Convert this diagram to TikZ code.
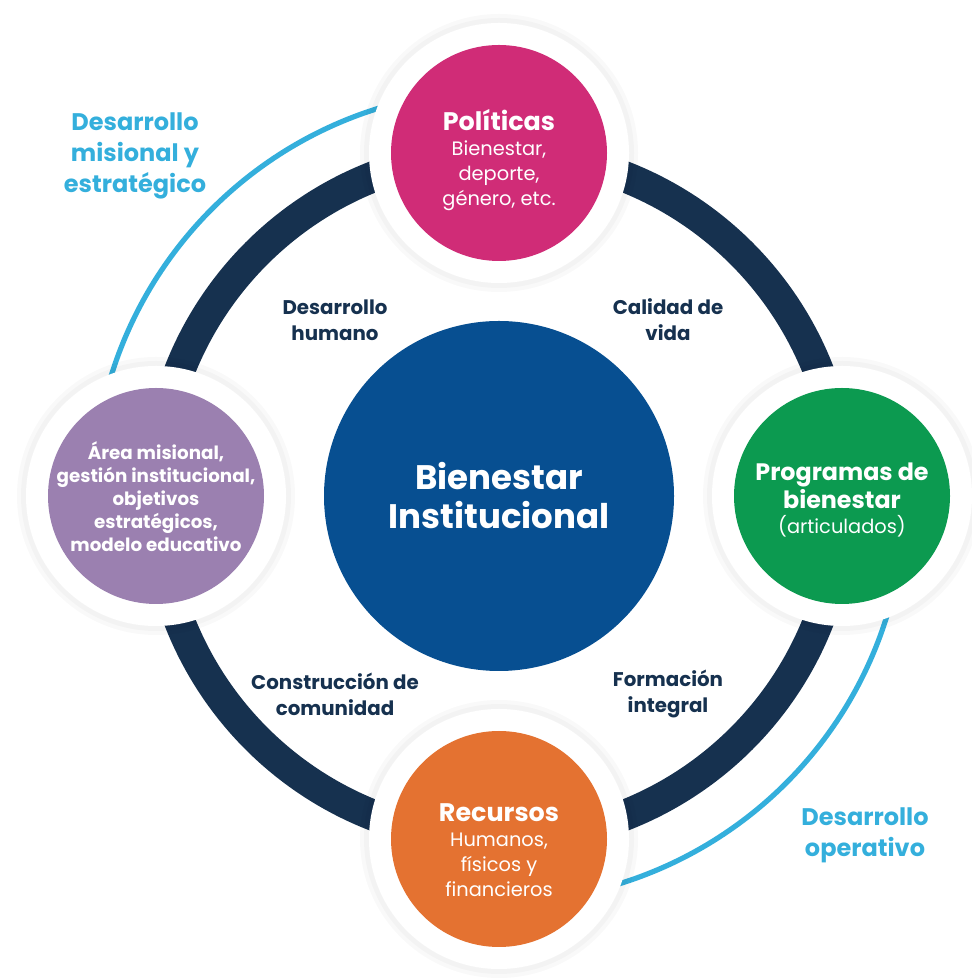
\documentclass[tikz,border=0pt]{standalone}
\RequirePackage{fontspec}
\RequirePackage{tikz}
\RequirePackage{tkz-euclide}
\setmainfont{Poppins}
\definecolor{navy}{RGB}{22,49,79}
\definecolor{sky}{RGB}{52,175,220}
\definecolor{hub}{RGB}{7,79,145}
\definecolor{rosa}{RGB}{208,44,119}
\definecolor{lila}{RGB}{155,128,176}
\definecolor{verde}{RGB}{12,154,80}
\definecolor{naranja}{RGB}{228,114,49}
\newcommand\headfont{\bfseries\fontsize{12.7}{15}\selectfont}
\tikzset{
  halo/.style={fill=white},
  glow/.style={fill=black,opacity=0.022},
  skyarc/.style={draw=sky,line width=2.6pt},
  body/.style={text=white,align=center,font=\fontsize{9.7}{12.5}\selectfont},
  inner/.style={text=navy,align=center,font=\bfseries\fontsize{9.9}{13}\selectfont},
  outer/.style={text=sky,align=center,font=\bfseries\fontsize{12}{15.5}\selectfont}
}

\begin{document}
\begin{tikzpicture}[x=0.5pt,y=0.5pt]
                \useasboundingbox (0,0) rectangle (972,979);
                \tkzDefPoint(499,483){O}
                \tkzDefPoint(499,826){P}
                \tkzDefPoint(156,483){M}
                \tkzDefPoint(842,483){G}
                \tkzDefPoint(499,140){R}

                \draw[skyarc] (O) ++(100:406) arc[start angle=100,end angle=170,radius=406];
                \draw[skyarc] (O) ++(-10:406) arc[start angle=-10,end angle=-80,radius=406];
                \draw[navy,line width=15.5pt] (O) circle (343);

                \foreach \c in {P,M,G,R}{
                    \fill[glow] (\c) circle (139);
                    \fill[glow] (\c) circle (135);
                    \fill[halo] (\c) circle (130);
                }

                \fill[rosa] (P) circle (108);
                \fill[lila] (M) circle (108);
                \fill[verde] (G) circle (108);
                \fill[naranja] (R) circle (108);
                \fill[hub] (O) circle (175);

                \node[body,font=\bfseries\fontsize{17}{19.5}\selectfont] (bi) at (O) {Bienestar\\Institucional};
                \node[body] (pol) at (499,819) {{\headfont Políticas}\\Bienestar,\\deporte,\\género, etc.};
                \node[body,font=\bfseries\fontsize{9.15}{11.5}\selectfont] (mis) at (156,482) {Área misional,\\gestión institucional,\\objetivos\\estratégicos,\\modelo educativo};
                \node[body] (prog) at (842,479) {{\bfseries\fontsize{11.9}{15}\selectfont Programas de}\\{\bfseries\fontsize{11.9}{15}\selectfont bienestar}\\(articulados)};
                \node[body] (rec) at (499,129) {{\headfont Recursos}\\Humanos,\\físicos y\\financieros};

                \node[inner] (dh) at (335,659) {Desarrollo\\humano};
                \node[inner] (cv) at (668,659) {Calidad de\\vida};
                \node[inner] (cc) at (335,285) {Construcción de\\comunidad};
                \node[inner] (fi) at (668,285) {Formación\\integral};

                \node[outer] (dme) at (135,823) {Desarrollo\\misional y\\estratégico};
                \node[outer] (dop) at (865,144) {Desarrollo\\operativo};
\end{tikzpicture}
\end{document}
